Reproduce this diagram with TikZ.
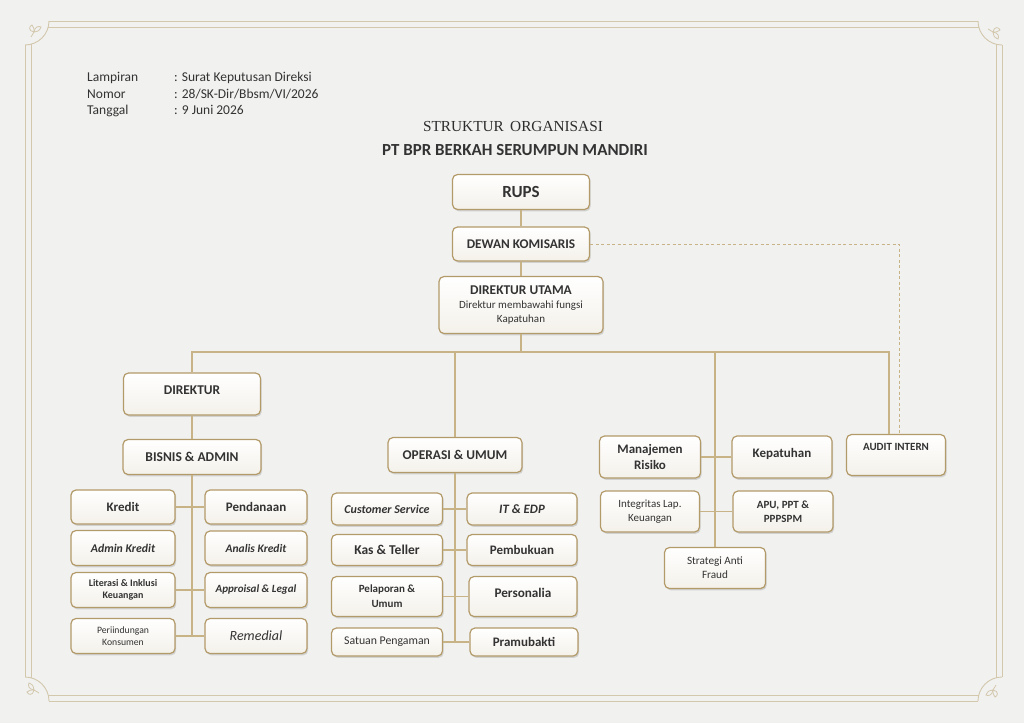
\documentclass[tikz,border=0pt]{standalone}
\usepackage{fontspec}
\setmainfont{Carlito}
\newfontfamily\judulfont{Liberation Serif}
\usepackage{xcolor}
\usetikzlibrary{shadows}

\definecolor{latar}{HTML}{F1F1F0}
\definecolor{krem}{HTML}{F4F1EA}
\definecolor{emas}{HTML}{B39A69}
\definecolor{garis}{HTML}{C8B387}
\definecolor{bingkai}{HTML}{D3C8AC}
\definecolor{teks}{HTML}{333333}

\tikzset{
  kotak/.style={draw=emas, line width=1.2pt, rounded corners=5pt, top color=white, bottom color=krem,
    drop shadow={shadow xshift=1.2pt, shadow yshift=-1.8pt, opacity=0.28}, text=teks, align=center, inner sep=1pt},
  hubung/.style={draw=garis, line width=1.1pt},
  tulisan/.style={text=teks, inner sep=0pt, anchor=base west, font=\fontsize{13.5}{15}\selectfont}
}

\begin{document}
\begin{tikzpicture}[x=1pt, y=-1pt]
        % latar dan bingkai
        \fill[latar] (0,0) rectangle (1024,723);
        \useasboundingbox (0,0) rectangle (1024,723);
        \draw[bingkai, line width=0.9pt] (49,21) -- (978,21) (49,701) -- (978,701) (25,45) -- (25,677) (1002,45) -- (1002,677);
        \draw[bingkai, line width=0.9pt] (48.2,27) -- (978.8,27) (48.2,695) -- (978.8,695) (31,44.2) -- (31,677.8) (996,44.2) -- (996,677.8);
        \draw[bingkai, line width=0.9pt] (49,21) arc[start angle=0, end angle=90, radius=24];
        \draw[bingkai, line width=0.9pt] (1002,45) arc[start angle=90, end angle=180, radius=24];
        \draw[bingkai, line width=0.9pt] (978,701) arc[start angle=180, end angle=270, radius=24];
        \draw[bingkai, line width=0.9pt] (25,677) arc[start angle=270, end angle=360, radius=24];
        \foreach \px/\py/\rot in {34/32/0, 993/32/-90, 993/690/180, 34/690/90} {
          \begin{scope}[shift={(\px,\py)}, rotate=\rot]
            \draw[bingkai, line width=0.8pt] (0,0) .. controls (-6,-1) and (-5,-6) .. (-2,-7) .. controls (0,-4) .. (0,0);
            \draw[bingkai, line width=0.8pt] (0,0) .. controls (1,-6) and (5,-6) .. (7,-5) .. controls (5,-1) .. (0,0);
            \draw[bingkai, line width=0.8pt] (0,0) .. controls (-1,3) .. (-3,5);
          \end{scope}
        }

        % keterangan surat
        \node[tulisan] (lampiran) at (87,81.5) {Lampiran};
        \node[tulisan] (nomor) at (87,98) {Nomor};
        \node[tulisan] (tanggal) at (87,114.5) {Tanggal};
        \node[tulisan] (lampiranisi) at (174,81.5) {: Surat Keputusan Direksi};
        \node[tulisan] (nomorisi) at (174,98) {: 28/SK-Dir/Bbsm/VI/2026};
        \node[tulisan] (tanggalisi) at (174,114.5) {: 9 Juni 2026};

        % judul
        \node[text=teks!90!black, font=\judulfont\fontsize{15.3}{17}\selectfont] (judul) at (513,127) {STRUKTUR\, ORGANISASI};
        \node[text=teks, font=\bfseries\fontsize{16.9}{19}\selectfont] (perusahaan) at (515,150) {PT BPR BERKAH SERUMPUN MANDIRI};

        % pimpinan
        \node[kotak, minimum width=137pt, minimum height=35pt, font=\bfseries\fontsize{17}{19}\selectfont] (rups) at (521,192) {RUPS};
        \node[kotak, minimum width=137pt, minimum height=34pt, font=\bfseries\fontsize{13.3}{15}\selectfont] (dekom) at (521,244) {DEWAN KOMISARIS};
        \node[kotak, minimum width=164pt, minimum height=57pt, font=\fontsize{11}{14}\selectfont] (dirut) at (521,305)
          {{\bfseries\fontsize{13.4}{15}\selectfont DIREKTUR UTAMA}\\Direktur membawahi fungsi\\Kapatuhan};

        % cabang kiri
        \node[kotak, minimum width=137pt, minimum height=42pt, text depth=7pt, font=\bfseries\fontsize{13.4}{15}\selectfont] (direktur) at (192,394) {DIREKTUR};
        \node[kotak, minimum width=138pt, minimum height=35pt, font=\bfseries\fontsize{13.5}{15}\selectfont] (bisnis) at (192,457) {BISNIS \& ADMIN};
        \node[kotak, minimum width=104pt, minimum height=34pt, font=\bfseries\fontsize{13}{15}\selectfont] (kredit) at (123,507) {Kredit};
        \node[kotak, minimum width=104pt, minimum height=35pt, font=\bfseries\itshape\fontsize{11.8}{13}\selectfont] (adminkredit) at (123,548) {Admin Kredit};
        \node[kotak, minimum width=104pt, minimum height=35pt, font=\bfseries\fontsize{10}{12.5}\selectfont] (literasi) at (123,590) {Literasi \& Inklusi\\Keuangan};
        \node[kotak, minimum width=104pt, minimum height=35pt, font=\fontsize{9.7}{12.5}\selectfont] (perlindungan) at (123,636) {Periindungan\\Konsumen};
        \node[kotak, minimum width=102pt, minimum height=34pt, font=\bfseries\fontsize{13}{15}\selectfont] (pendanaan) at (256,507) {Pendanaan};
        \node[kotak, minimum width=102pt, minimum height=34pt, font=\bfseries\itshape\fontsize{11.5}{13}\selectfont] (analis) at (256,548) {Analis Kredit};
        \node[kotak, minimum width=102pt, minimum height=35pt, font=\bfseries\itshape\fontsize{11}{13}\selectfont] (approisal) at (256,590) {Approisal \& Legal};
        \node[kotak, minimum width=102pt, minimum height=35pt, font=\itshape\fontsize{14}{16}\selectfont] (remedial) at (256,636) {Remedial};

        % cabang tengah
        \node[kotak, minimum width=134pt, minimum height=35pt, font=\bfseries\fontsize{13.4}{15}\selectfont] (operasi) at (455,455) {OPERASI \& UMUM};
        \node[kotak, minimum width=111pt, minimum height=32pt, font=\bfseries\itshape\fontsize{12}{14}\selectfont] (cs) at (387,509) {Customer Service};
        \node[kotak, minimum width=111pt, minimum height=31pt, font=\bfseries\fontsize{13.5}{15}\selectfont] (kas) at (387,550) {Kas \& Teller};
        \node[kotak, minimum width=111pt, minimum height=40pt, font=\bfseries\fontsize{11}{15}\selectfont] (pelaporan) at (387,596.5) {Pelaporan \&\\Umum};
        \node[kotak, minimum width=111pt, minimum height=28pt, font=\fontsize{11.8}{14}\selectfont] (satpam) at (387,642) {Satuan Pengaman};
        \node[kotak, minimum width=110pt, minimum height=32pt, font=\bfseries\itshape\fontsize{12.8}{14}\selectfont] (itedp) at (522,509) {IT \& EDP};
        \node[kotak, minimum width=110pt, minimum height=31pt, font=\bfseries\fontsize{13}{15}\selectfont] (pembukuan) at (522,550) {Pembukuan};
        \node[kotak, minimum width=108pt, minimum height=40pt, text depth=8pt, font=\bfseries\fontsize{13.2}{15}\selectfont] (personalia) at (523,596.5) {Personalia};
        \node[kotak, minimum width=108pt, minimum height=28pt, font=\bfseries\fontsize{13}{15}\selectfont] (pramubakti) at (524,642) {Pramubakti};

        % cabang kanan
        \node[kotak, minimum width=101pt, minimum height=42pt, font=\bfseries\fontsize{13}{16}\selectfont] (risiko) at (650,457) {Manajemen\\Risiko};
        \node[kotak, minimum width=100pt, minimum height=42pt, text depth=9pt, font=\bfseries\fontsize{13}{15}\selectfont] (kepatuhan) at (782,457) {Kepatuhan};
        \node[kotak, minimum width=99pt, minimum height=41pt, font=\fontsize{11}{14}\selectfont] (integritas) at (650,511.5) {Integritas Lap.\\Keuangan};
        \node[kotak, minimum width=100pt, minimum height=41pt, font=\bfseries\fontsize{11}{14}\selectfont] (apu) at (783,511.5) {APU, PPT \&\\PPPSPM};
        \node[kotak, minimum width=101pt, minimum height=41pt, font=\fontsize{11.2}{14}\selectfont] (fraud) at (715,568) {Strategi Anti\\Fraud};
        \node[kotak, minimum width=99pt, minimum height=41pt, text depth=16pt, font=\bfseries\fontsize{11}{13}\selectfont] (audit) at (896,455) {AUDIT INTERN};

        % titik bantu
        \coordinate (bus) at (521,352);
        \coordinate (busaudit) at (889,352);
        \coordinate (busrisiko) at (715,352);
        \coordinate (kiribawah) at (192,636);
        \coordinate (tengahbawah) at (455,642);
        \coordinate (sudutputus) at (899,244);

        % garis penghubung
        \draw[hubung] (rups.south) -- (dekom.north);
        \draw[hubung] (dekom.south) -- (dirut.north);
        \draw[hubung] (dirut.south) -- (bus);
        \draw[hubung] (direktur.north) |- (busaudit) -- (busaudit |- audit.north);
        \draw[hubung] (operasi.north) -- (operasi.north |- bus);
        \draw[hubung] (busrisiko) -- (fraud.north);
        \draw[hubung] (direktur.south) -- (bisnis.north);
        \draw[hubung] (bisnis.south) -- (kiribawah);
        \draw[hubung] (kredit.east) -- (pendanaan.west);
        \draw[hubung] (literasi.east) -- (approisal.west);
        \draw[hubung] (perlindungan.east) -- (remedial.west);
        \draw[hubung] (operasi.south) -- (tengahbawah);
        \draw[hubung] (cs.east) -- (itedp.west);
        \draw[hubung] (kas.east) -- (pembukuan.west);
        \draw[hubung] (pelaporan.east) -- (personalia.west);
        \draw[hubung] (satpam.east) -- (pramubakti.west);
        \draw[hubung] (risiko.east) -- (kepatuhan.west);
        \draw[hubung] (integritas.east) -- (apu.west);

        % garis putus ke audit intern
        \draw[garis, line width=0.9pt, dash pattern=on 3pt off 2.5pt] (dekom.east) -- (sudutputus) -- (sudutputus |- audit.north);

    \end{tikzpicture}
\end{document}
